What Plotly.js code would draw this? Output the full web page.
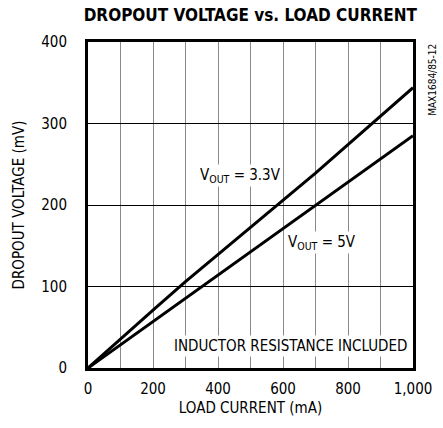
<!DOCTYPE html>
<html>
<head>
<meta charset="utf-8">
<script src="https://cdn.plot.ly/plotly-3.0.1.min.js"></script>
<style>
html,body{margin:0;padding:0;background:#fff;}
#chart{width:443px;height:428px;}
#chart svg text{font-stretch:condensed !important;}
</style>
</head>
<body>
<div id="chart"></div>
<script>
const loadCurrent = [0, 100, 200, 300, 400, 500, 600, 700, 800, 900, 1000];
const vout33 = [0, 36, 71, 106, 139, 172, 205, 239, 274, 309, 344];
const vout5 = [0, 28.5, 57, 85.5, 114, 142.5, 171, 199.5, 228, 256.5, 285];
const xTickVals = [0, 200, 400, 600, 800, 1000];
const xTickText = ['0', '200', '400', '600', '800', '1,000'];
const yTickVals = [0, 100, 200, 300, 400];

const FONT = '"DejaVu Sans Condensed", "DejaVu Sans", sans-serif';

const traces = [
  {x: loadCurrent, y: vout33, mode: 'lines', line: {color: '#000', width: 3}, name: 'VOUT = 3.3V', hoverinfo: 'skip'},
  {x: loadCurrent, y: vout5, mode: 'lines', line: {color: '#000', width: 3}, name: 'VOUT = 5V', hoverinfo: 'skip'}
];

const layout = {
  width: 443, height: 428,
  margin: {l: 88, r: 30, t: 42, b: 60},
  paper_bgcolor: '#fff', plot_bgcolor: '#fff',
  showlegend: false,
  font: {family: FONT, size: 15, color: '#000'},
  title: {text: '<b>DROPOUT VOLTAGE vs. LOAD CURRENT</b>', font: {family: FONT, size: 17, color: '#000'}, x: 0.565, xanchor: 'center', y: 0.965, yanchor: 'middle'},
  xaxis: {
    range: [0, 1000], tickmode: 'array', tickvals: xTickVals, ticktext: xTickText,
    showgrid: true, gridcolor: '#8a8a8a', gridwidth: 1,
    minor: {dtick: 100, tick0: 0, showgrid: true, gridcolor: '#8a8a8a', gridwidth: 1, ticks: ''},
    showline: true, linecolor: '#000', linewidth: 3, mirror: true,
    zeroline: false, ticks: '', ticklabelstandoff: 5,
    title: {text: 'LOAD CURRENT (mA)', font: {size: 15}, standoff: 6}
  },
  yaxis: {
    range: [0, 400], tickvals: yTickVals,
    showgrid: true, gridcolor: '#000', gridwidth: 1,
    showline: true, linecolor: '#000', linewidth: 3, mirror: true,
    zeroline: false, ticks: '', ticklabelstandoff: 15,
    title: {text: 'DROPOUT VOLTAGE (mV)', font: {size: 15}, standoff: 13}
  },
  annotations: [
    {xref: 'x', yref: 'y', x: 470, y: 236, text: 'V<sub>OUT</sub> = 3.3V', showarrow: false, bgcolor: '#fff', font: {size: 15}, borderpad: 1},
    {xref: 'x', yref: 'y', x: 720, y: 154, text: 'V<sub>OUT</sub> = 5V', showarrow: false, bgcolor: '#fff', font: {size: 15}, borderpad: 1},
    {xref: 'x', yref: 'y', x: 988, y: 27, xanchor: 'right', text: 'INDUCTOR RESISTANCE INCLUDED', showarrow: false, bgcolor: '#fff', font: {size: 15}, borderpad: 1},
    {xref: 'paper', yref: 'paper', x: 1.058, y: 1.0, xanchor: 'center', yanchor: 'top', textangle: -90, text: 'MAX1684/85-12', showarrow: false, font: {size: 10}}
  ]
};

Plotly.newPlot('chart', traces, layout, {staticPlot: true, displayModeBar: false});
</script>
</body>
</html>
